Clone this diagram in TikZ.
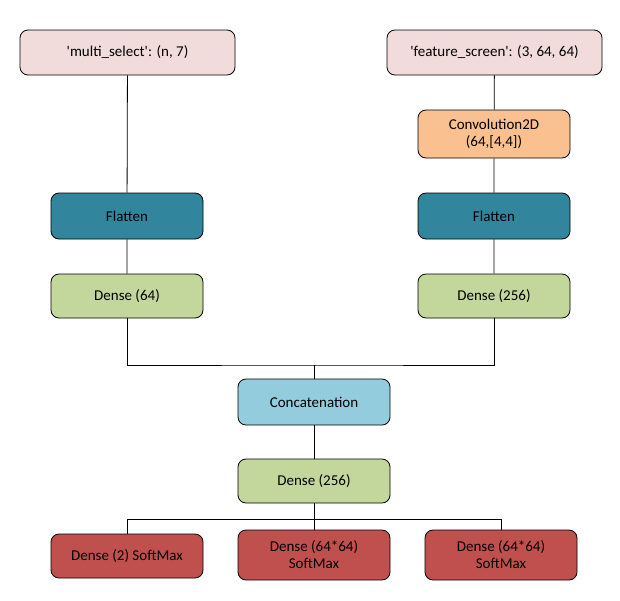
\documentclass[tikz,border=0pt]{standalone}
\usepackage{fontspec}
\setmainfont{Carlito}
\usetikzlibrary{positioning}
\definecolor{inputc}{HTML}{F2DCDB}
\definecolor{convc}{HTML}{FAC090}
\definecolor{flatc}{HTML}{31859C}
\definecolor{concc}{HTML}{93CDDD}
\definecolor{densec}{HTML}{C3D69B}
\definecolor{outc}{HTML}{C0504D}
\tikzset{
  layer/.style = {draw,line width=0.8pt,rounded corners=8pt,font=\fontsize{15}{17}\selectfont,align=center,minimum width=152pt,minimum height=46pt,inner sep=1pt},
  inp/.style = {layer,fill=inputc,minimum width=215pt,minimum height=45pt},
  conv/.style = {layer,fill=convc,minimum height=48pt},
  flat/.style = {layer,fill=flatc},
  conc/.style = {layer,fill=concc},
  dense/.style = {layer,fill=densec,minimum height=44pt},
  outl/.style = {layer,fill=outc,minimum height=50pt},
  wire/.style = {draw,line width=0.8pt}
}

\begin{document}
\begin{tikzpicture}[x=1pt,y=-1pt]
\useasboundingbox (0,0) rectangle (620,600);

% two inputs
\node[inp] (ms) at (127.5,52.5) {\textquotesingle multi\_select\textquotesingle: (n, 7)};
\node[inp] (fs) at (494.5,52.5) {\textquotesingle feature\_screen\textquotesingle: (3, 64, 64)};

\node[conv] (cv) at (494,134) {Convolution2D\\(64,[4,4])};

\node[flat] (fl1) at (127,216) {Flatten};
\node[flat] (fl2) at (494,216) {Flatten};

\node[dense] (d1) at (127,296) {Dense (64)};
\node[dense] (d2) at (494,296) {Dense (256)};

\node[conc] (cc) at (314,402) {Concatenation};
\node[dense] (d3) at (314,481) {Dense (256)};

% outputs
\node[outl,minimum height=44pt] (o1) at (127,556) {Dense (2) SoftMax};
\node[outl] (o2) at (314,555) {Dense (64*64)\\SoftMax};
\node[outl] (o3) at (501,555) {Dense (64*64)\\SoftMax};

\coordinate (join) at (314,365);
\coordinate (split) at (314,519);

\path[wire] (ms) -- (fl1) -- (d1);
\path[wire] (fs) -- (cv) -- (fl2) -- (d2);
\path[wire] (d1) |- (join) -| (d2);
\path[wire] (join) -- (cc) -- (d3) -- (split);
\path[wire] (o1) |- (split) -| (o3);
\path[wire] (split) -- (o2);
\end{tikzpicture}
\end{document}
